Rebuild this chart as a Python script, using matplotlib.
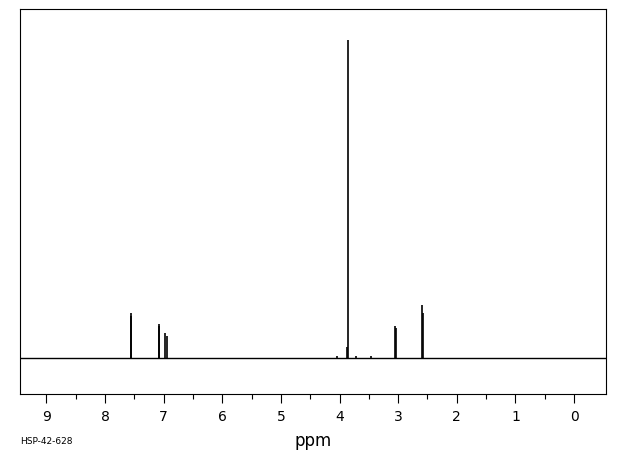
import matplotlib
matplotlib.use("Agg")
import matplotlib.pyplot as plt

# peak list (ppm, relative intensity)
peak_ppm = [7.564, 7.552, 7.085, 7.075, 6.975, 6.945,
            4.05, 3.872, 3.861, 3.72, 3.47,
            3.053, 3.036, 2.592, 2.575]
peak_int = [0.132, 0.142, 0.107, 0.100, 0.079, 0.069,
            0.006, 0.035, 1.0, 0.006, 0.006,
            0.100, 0.094, 0.167, 0.142]

tick_ppm = [9, 8, 7, 6, 5, 4, 3, 2, 1, 0]
minor_ppm = [8.5, 7.5, 6.5, 5.5, 4.5, 3.5, 2.5, 1.5, 0.5]

fig = plt.figure(figsize=(6.2, 4.55), dpi=100)
ax = fig.add_axes([20 / 620, 1 - 394 / 455, 586 / 620, 385 / 455])

xmin, xmax = -0.545, 9.45
ax.axhline(0, color="black", lw=1.0)
ax.vlines(peak_ppm, 0, peak_int, color="black", lw=1.2)

ax.set_xlim(xmax, xmin)
ax.set_ylim(-0.113, 1.097)
ax.set_yticks([])
ax.set_xticks(tick_ppm)
ax.set_xticklabels([str(t) for t in tick_ppm])
ax.set_xticks(minor_ppm, minor=True)
ax.tick_params(axis="x", which="major", direction="out", length=6.5, width=0.8,
               pad=5, labelsize=10)
ax.tick_params(axis="x", which="minor", direction="out", length=3.6, width=0.8)
for s in ax.spines.values():
    s.set_linewidth(0.8)

ax.set_xlabel("ppm", fontsize=12, labelpad=6)
fig.text(20 / 620, 1 - 442 / 455, "HSP-42-628", fontsize=6.5, va="center")

fig.savefig("out.png", dpi=100)
